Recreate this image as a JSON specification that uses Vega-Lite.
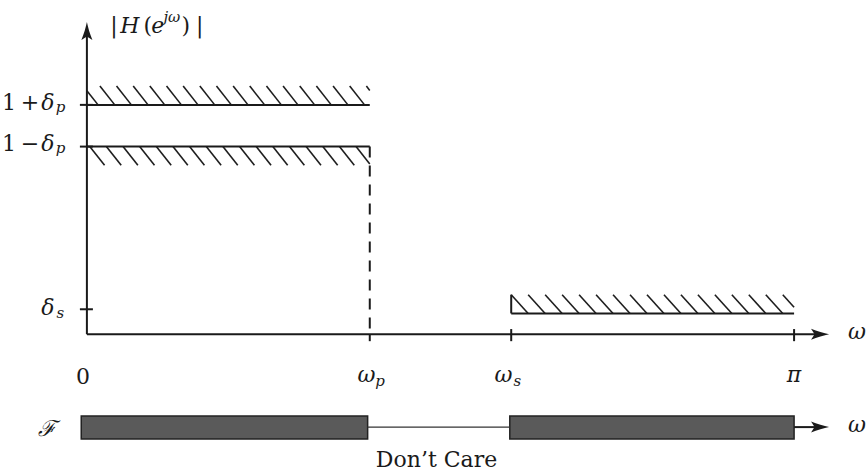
{
  "$schema": "https://vega.github.io/schema/vega-lite/v6.json",
  "width": 866,
  "height": 472,
  "autosize": {"type": "fit", "contains": "padding"},
  "padding": 0,
  "background": "white",
  "config": {"view": {"stroke": null}},
  "datasets": {
    "lines": [
      {"x": 0, "y": 0, "x2": 0, "y2": 1.43},
      {"x": 0, "y": 0, "x2": 1.03, "y2": 0},
      {"x": 0, "y": 1.1, "x2": 0.4, "y2": 1.1},
      {"x": 0, "y": 0.9, "x2": 0.4, "y2": 0.9},
      {"x": 0.6, "y": 0.1, "x2": 1.0, "y2": 0.1},
      {"x": 0.6, "y": 0.1, "x2": 0.6, "y2": 0.19},
      {"x": -0.0099, "y": 1.1, "x2": 0.0085, "y2": 1.1},
      {"x": -0.0099, "y": 0.9, "x2": 0.0085, "y2": 0.9},
      {"x": -0.0099, "y": 0.12, "x2": 0.0085, "y2": 0.12},
      {"x": 0.6, "y": 0.025, "x2": 0.6, "y2": -0.033},
      {"x": 1.0, "y": 0.025, "x2": 1.0, "y2": -0.033},
      {"x": 0.4, "y": 0, "x2": 0.4, "y2": -0.033},
      {"x": 1.0, "y": -0.445, "x2": 1.03, "y2": -0.445}
    ],
    "thin": [
      {"x": 0.397, "y": -0.445, "x2": 0.598, "y2": -0.445}
    ],
    "dashed": [
      {"x": 0.4, "y": 0.9, "x2": 0.4, "y2": 0}
    ],
    "hatch": [
      {"x": 0, "y": 1.168, "x2": 0.0158, "y2": 1.1},
      {"x": 0.0184, "y": 1.19, "x2": 0.0394, "y2": 1.1},
      {"x": 0.0419, "y": 1.19, "x2": 0.0629, "y2": 1.1},
      {"x": 0.0655, "y": 1.19, "x2": 0.0865, "y2": 1.1},
      {"x": 0.089, "y": 1.19, "x2": 0.11, "y2": 1.1},
      {"x": 0.1126, "y": 1.19, "x2": 0.1336, "y2": 1.1},
      {"x": 0.1361, "y": 1.19, "x2": 0.1571, "y2": 1.1},
      {"x": 0.1597, "y": 1.19, "x2": 0.1807, "y2": 1.1},
      {"x": 0.1832, "y": 1.19, "x2": 0.2042, "y2": 1.1},
      {"x": 0.2068, "y": 1.19, "x2": 0.2278, "y2": 1.1},
      {"x": 0.2303, "y": 1.19, "x2": 0.2513, "y2": 1.1},
      {"x": 0.2539, "y": 1.19, "x2": 0.2749, "y2": 1.1},
      {"x": 0.2774, "y": 1.19, "x2": 0.2984, "y2": 1.1},
      {"x": 0.301, "y": 1.19, "x2": 0.322, "y2": 1.1},
      {"x": 0.3245, "y": 1.19, "x2": 0.3455, "y2": 1.1},
      {"x": 0.3481, "y": 1.19, "x2": 0.3691, "y2": 1.1},
      {"x": 0.3716, "y": 1.19, "x2": 0.3926, "y2": 1.1},
      {"x": 0.3952, "y": 1.19, "x2": 0.4, "y2": 1.169},
      {"x": 0.004, "y": 0.9, "x2": 0.025, "y2": 0.81},
      {"x": 0.0275, "y": 0.9, "x2": 0.0485, "y2": 0.81},
      {"x": 0.0511, "y": 0.9, "x2": 0.0721, "y2": 0.81},
      {"x": 0.0746, "y": 0.9, "x2": 0.0956, "y2": 0.81},
      {"x": 0.0982, "y": 0.9, "x2": 0.1192, "y2": 0.81},
      {"x": 0.1217, "y": 0.9, "x2": 0.1427, "y2": 0.81},
      {"x": 0.1452, "y": 0.9, "x2": 0.1662, "y2": 0.81},
      {"x": 0.1688, "y": 0.9, "x2": 0.1898, "y2": 0.81},
      {"x": 0.1923, "y": 0.9, "x2": 0.2133, "y2": 0.81},
      {"x": 0.2159, "y": 0.9, "x2": 0.2369, "y2": 0.81},
      {"x": 0.2394, "y": 0.9, "x2": 0.2604, "y2": 0.81},
      {"x": 0.2629, "y": 0.9, "x2": 0.2839, "y2": 0.81},
      {"x": 0.2865, "y": 0.9, "x2": 0.3075, "y2": 0.81},
      {"x": 0.31, "y": 0.9, "x2": 0.331, "y2": 0.81},
      {"x": 0.3336, "y": 0.9, "x2": 0.3546, "y2": 0.81},
      {"x": 0.3571, "y": 0.9, "x2": 0.3781, "y2": 0.81},
      {"x": 0.3806, "y": 0.9, "x2": 0.4, "y2": 0.817},
      {"x": 0.6, "y": 0.19, "x2": 0.624, "y2": 0.1},
      {"x": 0.624, "y": 0.19, "x2": 0.648, "y2": 0.1},
      {"x": 0.648, "y": 0.19, "x2": 0.672, "y2": 0.1},
      {"x": 0.672, "y": 0.19, "x2": 0.696, "y2": 0.1},
      {"x": 0.696, "y": 0.19, "x2": 0.72, "y2": 0.1},
      {"x": 0.72, "y": 0.19, "x2": 0.744, "y2": 0.1},
      {"x": 0.744, "y": 0.19, "x2": 0.768, "y2": 0.1},
      {"x": 0.768, "y": 0.19, "x2": 0.792, "y2": 0.1},
      {"x": 0.792, "y": 0.19, "x2": 0.816, "y2": 0.1},
      {"x": 0.816, "y": 0.19, "x2": 0.84, "y2": 0.1},
      {"x": 0.84, "y": 0.19, "x2": 0.864, "y2": 0.1},
      {"x": 0.864, "y": 0.19, "x2": 0.888, "y2": 0.1},
      {"x": 0.888, "y": 0.19, "x2": 0.912, "y2": 0.1},
      {"x": 0.912, "y": 0.19, "x2": 0.936, "y2": 0.1},
      {"x": 0.936, "y": 0.19, "x2": 0.96, "y2": 0.1},
      {"x": 0.96, "y": 0.19, "x2": 0.984, "y2": 0.1},
      {"x": 0.984, "y": 0.19, "x2": 1.0, "y2": 0.13}
    ],
    "bars": [
      {"x": -0.008, "y": -0.392, "x2": 0.397, "y2": -0.502},
      {"x": 0.598, "y": -0.392, "x2": 1.0, "y2": -0.502}
    ],
    "arrowUp": [
      {"x": 0, "y": 1.4498}
    ],
    "arrowRight": [
      {"x": 1.0353, "y": 0},
      {"x": 1.0353, "y": -0.445}
    ],
    "roman": [
      {"t": "1", "x": -0.1102, "y": 1.0766},
      {"t": "+", "x": -0.0805, "y": 1.0766},
      {"t": "1", "x": -0.1102, "y": 0.8804},
      {"t": "−", "x": -0.0805, "y": 0.8804},
      {"t": "0", "x": -0.0056, "y": -0.2392},
      {"t": "|", "x": 0.0381, "y": 1.445},
      {"t": "(", "x": 0.0862, "y": 1.445},
      {"t": ")", "x": 0.1398, "y": 1.445},
      {"t": "|", "x": 0.1596, "y": 1.445},
      {"t": "Don’t Care", "x": 0.4944, "y": -0.6364}
    ],
    "italic": [
      {"t": "δ", "x": -0.0551, "y": 1.0766},
      {"t": "δ", "x": -0.0551, "y": 0.8804},
      {"t": "δ", "x": -0.0551, "y": 0.0909},
      {"t": "ω", "x": 0.3955, "y": -0.2297},
      {"t": "ω", "x": 0.589, "y": -0.2297},
      {"t": "π", "x": 1.0, "y": -0.2297},
      {"t": "ω", "x": 1.089, "y": -0.0239},
      {"t": "ω", "x": 1.089, "y": -0.4689},
      {"t": "H", "x": 0.0607, "y": 1.445},
      {"t": "e", "x": 0.1003, "y": 1.445},
      {"t": "ℱ", "x": -0.0565, "y": -0.488}
    ],
    "small": [
      {"t": "p", "x": -0.0374, "y": 1.067},
      {"t": "p", "x": -0.0374, "y": 0.8708},
      {"t": "s", "x": -0.0374, "y": 0.0766},
      {"t": "p", "x": 0.4145, "y": -0.2488},
      {"t": "s", "x": 0.6088, "y": -0.2488},
      {"t": "jω", "x": 0.1201, "y": 1.4976}
    ]
  },
  "encoding": {
    "x": {"field": "x", "type": "quantitative", "axis": null,
          "scale": {"domain": [-0.12288, 1.10028], "nice": false, "zero": false}},
    "y": {"field": "y", "type": "quantitative", "axis": null,
          "scale": {"domain": [-0.6555, 1.60287], "nice": false, "zero": false}}
  },
  "layer": [
    {
      "data": {"name": "bars"},
      "mark": {"type": "rect", "fill": "#5a5a5a", "stroke": "#222222", "strokeWidth": 1.5},
      "encoding": {"x2": {"field": "x2"}, "y2": {"field": "y2"}}
    },
    {
      "data": {"name": "hatch"},
      "mark": {"type": "rule", "color": "#1e1e1e", "strokeWidth": 1.6},
      "encoding": {"x2": {"field": "x2"}, "y2": {"field": "y2"}}
    },
    {
      "data": {"name": "lines"},
      "mark": {"type": "rule", "color": "#1a1a1a", "strokeWidth": 2},
      "encoding": {"x2": {"field": "x2"}, "y2": {"field": "y2"}}
    },
    {
      "data": {"name": "thin"},
      "mark": {"type": "rule", "color": "#333333", "strokeWidth": 1.3},
      "encoding": {"x2": {"field": "x2"}, "y2": {"field": "y2"}}
    },
    {
      "data": {"name": "dashed"},
      "mark": {"type": "rule", "color": "#1a1a1a", "strokeWidth": 2, "strokeDash": [11, 8]},
      "encoding": {"x2": {"field": "x2"}, "y2": {"field": "y2"}}
    },
    {
      "data": {"name": "arrowUp"},
      "mark": {"type": "point", "filled": true, "color": "#1a1a1a", "opacity": 1, "size": 400, "angle": 0,
               "shape": "M0,-1 C0.1,-0.5 0.3,0.2 0.55,0.8 L0,0.45 L-0.55,0.8 C-0.3,0.2 -0.1,-0.5 0,-1 Z"}
    },
    {
      "data": {"name": "arrowRight"},
      "mark": {"type": "point", "filled": true, "color": "#1a1a1a", "opacity": 1, "size": 400, "angle": 90,
               "shape": "M0,-1 C0.1,-0.5 0.3,0.2 0.55,0.8 L0,0.45 L-0.55,0.8 C-0.3,0.2 -0.1,-0.5 0,-1 Z"}
    },
    {
      "data": {"name": "roman"},
      "mark": {"type": "text", "font": "DejaVu Serif", "fontSize": 22, "align": "center", "baseline": "alphabetic", "color": "#1a1a1a"},
      "encoding": {"text": {"field": "t"}}
    },
    {
      "data": {"name": "italic"},
      "mark": {"type": "text", "font": "DejaVu Serif", "fontSize": 22, "fontStyle": "italic", "align": "center", "baseline": "alphabetic", "color": "#1a1a1a"},
      "encoding": {"text": {"field": "t"}}
    },
    {
      "data": {"name": "small"},
      "mark": {"type": "text", "font": "DejaVu Serif", "fontSize": 15, "fontStyle": "italic", "align": "center", "baseline": "alphabetic", "color": "#1a1a1a"},
      "encoding": {"text": {"field": "t"}}
    }
  ]
}
